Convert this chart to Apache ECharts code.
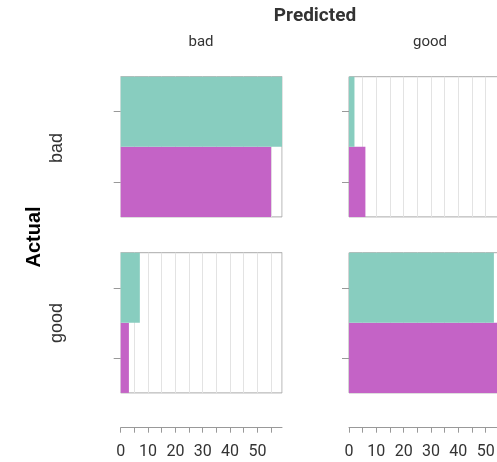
<!DOCTYPE html>
<html>
<head>
<meta charset="utf-8">
<script src="https://cdn.jsdelivr.net/npm/echarts@6/dist/echarts.min.js"></script>
<style>html,body{margin:0;padding:0;background:#fff}#c{width:497px;height:462px}</style>
</head>
<body>
<div id="c"></div>
<script>
// Facet categories
const actualClasses = ['bad', 'good'];      // rows
const predictedClasses = ['bad', 'good'];   // columns
// Bar values per panel [actual][predicted]
const tealValues = [[59, 2], [7, 53]];
const magentaValues = [[55, 6], [3, 57]];
// Axis ticks
const xMax = 59;
const tickStep = 5;
const labelStep = 10;

const TEAL = '#88cdbf';
const MAGENTA = '#c463c6';

const chart = echarts.init(document.getElementById('c'));
const lefts = [120.7, 349];
const tops = [76.7, 252.7];
const W = 161.3, H = 140.2;
const CW = 497;

const grids = [], xAxes = [], yAxes = [], series = [];
let idx = 0;
for (let r = 0; r < 2; r++) {
  for (let c = 0; c < 2; c++) {
    grids.push({left: lefts[c], top: tops[r], right: CW - lefts[c] - W, height: H, show: true,
      outerBoundsMode: 'none',
      borderColor: '#aaaaaa', borderWidth: 1, backgroundColor: 'transparent', containLabel: false});
    xAxes.push({type: 'value', gridIndex: idx, min: 0, max: xMax, interval: tickStep,
      axisLine: {show: false}, axisTick: {show: false}, axisLabel: {show: false},
      splitLine: {show: true, lineStyle: {color: '#e3e3e3', width: 1}}
    });
    yAxes.push({type: 'category', gridIndex: idx, data: ['magenta', 'teal'],
      axisLine: {show: false},
      axisTick: {show: true, alignWithLabel: true, length: 7, lineStyle: {color: '#999'}},
      axisLabel: {show: false}, splitLine: {show: false}
    });
    series.push({type: 'bar', xAxisIndex: idx, yAxisIndex: idx, barCategoryGap: '0%', barWidth: '100%',
      silent: true, z: 1,
      data: [
        {value: magentaValues[r][c], itemStyle: {color: MAGENTA}},
        {value: tealValues[r][c], itemStyle: {color: TEAL}}
      ]});
    idx++;
  }
}
// Separate tick strips under each column
for (let c = 0; c < 2; c++) {
  grids.push({left: lefts[c], top: 397.7, right: CW - lefts[c] - W, height: 30, show: false,
    outerBoundsMode: 'none', containLabel: false});
  xAxes.push({type: 'value', gridIndex: idx, min: 0, max: xMax, interval: tickStep, position: 'bottom',
    axisLine: {show: true, lineStyle: {color: '#999', width: 1}},
    axisTick: {show: true, length: 5, lineStyle: {color: '#999'}},
    axisLabel: {show: true, margin: 16, color: '#333', fontFamily: 'Roboto', fontSize: 16,
      showMaxLabel: false,
      formatter: v => (v % labelStep === 0 ? String(v) : '')},
    splitLine: {show: false}
  });
  yAxes.push({type: 'value', gridIndex: idx, show: false});
  idx++;
}

const graphics = [
  {type: 'text', x: 315, y: 16, style: {text: 'Predicted', fill: '#333', font: 'bold 19px Roboto', textAlign: 'center', textVerticalAlign: 'middle'}},
  {type: 'text', x: 201, y: 42, style: {text: predictedClasses[0], fill: '#333', font: '15px Roboto', textAlign: 'center', textVerticalAlign: 'middle'}},
  {type: 'text', x: 430, y: 42, style: {text: predictedClasses[1], fill: '#333', font: '15px Roboto', textAlign: 'center', textVerticalAlign: 'middle'}},
  {type: 'text', x: 34, y: 237, rotation: Math.PI / 2, style: {text: 'Actual', fill: '#000', font: 'bold 20px "Liberation Sans"', textAlign: 'center', textVerticalAlign: 'middle'}},
  {type: 'text', x: 57, y: 148, rotation: Math.PI / 2, style: {text: actualClasses[0], fill: '#333', font: '18px "Liberation Sans"', textAlign: 'center', textVerticalAlign: 'middle'}},
  {type: 'text', x: 57, y: 323, rotation: Math.PI / 2, style: {text: actualClasses[1], fill: '#333', font: '18px "Liberation Sans"', textAlign: 'center', textVerticalAlign: 'middle'}}
];

chart.setOption({
  animation: false,
  grid: grids, xAxis: xAxes, yAxis: yAxes, series: series,
  graphic: graphics
});
</script>
</body>
</html>
